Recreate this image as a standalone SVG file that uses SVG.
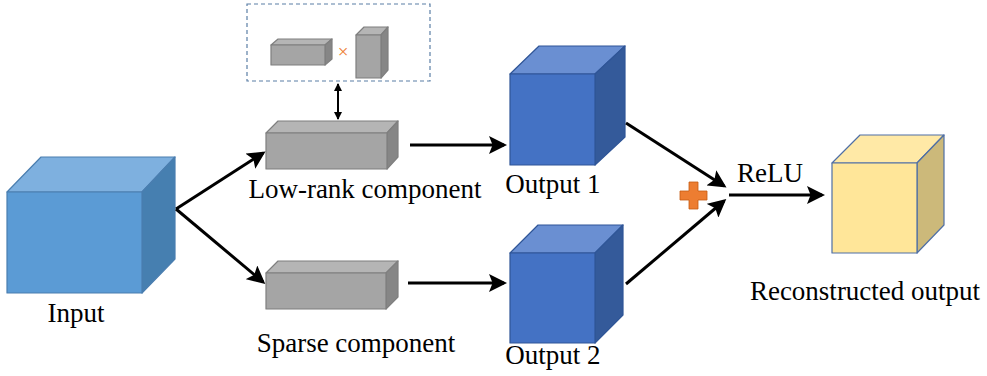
<svg xmlns="http://www.w3.org/2000/svg" width="987" height="376" viewBox="0 0 987 376">
<style>
text{font-family:"Liberation Serif","Times New Roman",serif;font-size:27px;fill:#000}
.c{stroke-width:1.2;stroke-linejoin:round}
.in{stroke:#4A7EB0}
.gr{stroke:#7F7F7F}
.bl{stroke:#2F5597}
.yl{stroke:#4F6FA5}
.conn{stroke:#000;stroke-width:3;fill:none}
</style>
<defs>
<marker id="ah" markerWidth="6" markerHeight="6" refX="5" refY="3" orient="auto" markerUnits="strokeWidth">
<path d="M0,0 L6,3 L0,6 L1.2,3 Z" fill="#000"/>
</marker>
<marker id="ah2" markerWidth="4" markerHeight="4" refX="3.5" refY="2" orient="auto-start-reverse" markerUnits="strokeWidth">
<path d="M0,0 L4,2 L0,4 Z" fill="#000"/>
</marker>
</defs>
<rect width="987" height="376" fill="#fff"/>

<g id="input">
<polygon class="c in" points="7,192 41,157 175,157 142,192" fill="#7EB0DF"/>
<polygon class="c in" points="142,192 175,157 175,259 142,293" fill="#467FB0"/>
<rect class="c in" x="7" y="192" width="135" height="101" fill="#5B9BD5"/>
<text x="76" y="322" text-anchor="middle">Input</text>
</g>

<g id="lowrank-factors">
<rect x="247" y="4" width="183" height="77" fill="none" stroke="#5B7FA6" stroke-width="1.2" stroke-dasharray="4,3"/>
<polygon class="c gr" points="271,45 278,39 332,39 325,45" fill="#B5B5B5"/>
<polygon class="c gr" points="325,45 332,39 332,59 325,65" fill="#868686"/>
<rect class="c gr" x="271" y="45" width="54" height="20" fill="#A5A5A5"/>
<text x="343" y="58" text-anchor="middle" style="font-size:19px;fill:#ED7D31">×</text>
<polygon class="c gr" points="356,35 364,27 388,27 381,35" fill="#B5B5B5"/>
<polygon class="c gr" points="381,35 388,27 388,70 381,78" fill="#868686"/>
<rect class="c gr" x="356" y="35" width="25" height="43" fill="#A5A5A5"/>
</g>

<g id="lowrank">
<polygon class="c gr" points="266,133 278,121 398,121 387,133" fill="#B5B5B5"/>
<polygon class="c gr" points="387,133 398,121 398,157 387,169" fill="#868686"/>
<rect class="c gr" x="266" y="133" width="121" height="36" fill="#A5A5A5"/>
<text x="365" y="198" text-anchor="middle">Low-rank component</text>
</g>

<g id="sparse">
<polygon class="c gr" points="266,273 278,261 398,261 386,273" fill="#B5B5B5"/>
<polygon class="c gr" points="386,273 398,261 398,297 386,309" fill="#868686"/>
<rect class="c gr" x="266" y="273" width="120" height="36" fill="#A5A5A5"/>
<text x="356" y="352" text-anchor="middle">Sparse component</text>
</g>

<g id="output1">
<polygon class="c bl" points="510,74 539,46 625,46 595,74" fill="#6A8FD2"/>
<polygon class="c bl" points="595,74 625,46 625,137 595,165" fill="#345A9A"/>
<rect class="c bl" x="510" y="74" width="85" height="91" fill="#4472C4"/>
<text x="553" y="193" text-anchor="middle">Output 1</text>
</g>

<g id="output2">
<polygon class="c bl" points="510,253 538,225 623,225 595,253" fill="#6A8FD2"/>
<polygon class="c bl" points="595,253 623,225 623,315 595,343" fill="#345A9A"/>
<rect class="c bl" x="510" y="253" width="85" height="90" fill="#4472C4"/>
<text x="553" y="364" text-anchor="middle">Output 2</text>
</g>

<g id="plus">
<path d="M689,182 h9 v9 h9 v9 h-9 v9 h-9 v-9 h-9 v-9 h9 Z" fill="#ED7D31" stroke="#C55A11" stroke-width="0.8"/>
</g>

<g id="reconstructed">
<polygon class="c yl" points="832,163 860,135 944,135 917,163" fill="#FFE9A6"/>
<polygon class="c yl" points="917,163 944,135 944,225 917,253" fill="#CCB97A"/>
<rect class="c yl" x="832" y="163" width="85" height="90" fill="#FFE699"/>
<text x="865" y="300" text-anchor="middle">Reconstructed output</text>
</g>

<g id="connectors">
<line class="conn" x1="176" y1="209" x2="263" y2="153" marker-end="url(#ah)"/>
<line class="conn" x1="176" y1="209" x2="263" y2="282" marker-end="url(#ah)"/>
<line class="conn" x1="410" y1="145" x2="504" y2="145" marker-end="url(#ah)"/>
<line class="conn" x1="408" y1="283" x2="504" y2="283" marker-end="url(#ah)"/>
<line class="conn" x1="626" y1="123" x2="724" y2="186" marker-end="url(#ah)"/>
<line class="conn" x1="626" y1="284" x2="724" y2="201" marker-end="url(#ah)"/>
<line class="conn" x1="729" y1="195" x2="822" y2="195" marker-end="url(#ah)"/>
<line x1="338" y1="84" x2="338" y2="119" stroke="#000" stroke-width="2" marker-start="url(#ah2)" marker-end="url(#ah2)"/>
<text x="770" y="182" text-anchor="middle">ReLU</text>
</g>
</svg>
